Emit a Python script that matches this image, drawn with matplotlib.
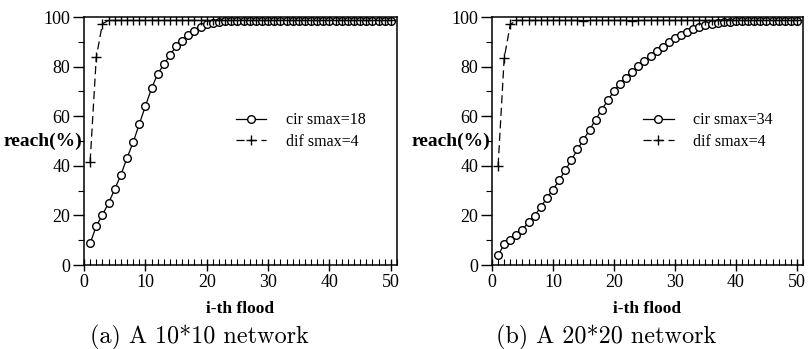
import matplotlib
matplotlib.use("Agg")
import matplotlib.pyplot as plt
from matplotlib.ticker import MultipleLocator

flood = list(range(1, 51))

cir18 = [8.7, 15.7, 20.2, 25.0, 30.5, 36.3, 43.1, 49.4, 56.8, 64.0,
         71.2, 77.0, 80.9, 84.6, 88.2, 90.5, 92.6, 94.4, 95.9, 97.0,
         97.7, 98.0, 98.2, 98.3, 98.4, 98.4, 98.4, 98.4, 98.4, 98.4,
         98.4, 98.4, 98.4, 98.4, 98.4, 98.4, 98.4, 98.4, 98.4, 98.4,
         98.4, 98.4, 98.4, 98.4, 98.4, 98.4, 98.4, 98.4, 98.4, 98.4]
dif4_a = [41.7, 83.7, 97.3, 98.6, 98.6, 98.6, 98.6, 98.6, 98.6, 98.6,
          98.6, 98.6, 98.6, 98.6, 98.6, 98.6, 98.6, 98.6, 98.6, 98.6,
          98.6, 98.6, 98.6, 98.6, 98.6, 98.6, 98.6, 98.6, 98.6, 98.6,
          98.6, 98.6, 98.6, 98.6, 98.6, 98.6, 98.6, 98.6, 98.6, 98.6,
          98.6, 98.6, 98.6, 98.6, 98.6, 98.6, 98.6, 98.6, 98.6, 98.6]
cir34 = [4.0, 8.3, 10.0, 12.0, 14.3, 17.3, 19.9, 23.4, 27.0, 30.4,
         34.1, 38.2, 42.2, 46.6, 50.5, 54.5, 58.6, 62.7, 66.4, 70.2,
         73.1, 75.6, 78.0, 80.1, 82.3, 84.3, 86.3, 88.1, 89.8, 91.4,
         92.8, 93.9, 95.0, 96.0, 96.8, 97.3, 97.7, 97.9, 98.1, 98.2,
         98.3, 98.3, 98.4, 98.4, 98.4, 98.4, 98.4, 98.4, 98.4, 98.4]
dif4_b = [40.0, 83.4, 97.0, 98.6, 98.6, 98.6, 98.6, 98.6, 98.6, 98.6,
          98.6, 98.6, 98.6, 98.6, 98.5, 98.6, 98.6, 98.6, 98.6, 98.6,
          98.6, 98.6, 98.5, 98.6, 98.6, 98.6, 98.6, 98.6, 98.6, 98.6,
          98.6, 98.6, 98.6, 98.6, 98.6, 98.6, 98.6, 98.6, 98.6, 98.6,
          98.6, 98.6, 98.6, 98.6, 98.6, 98.6, 98.6, 98.6, 98.6, 98.6]

panels = [
    dict(cir=cir18, dif=dif4_a, cir_label="cir smax=18", dif_label="dif smax=4",
         caption="(a) A 10*10 network", rect=[84/808, 84/349, 313/808, 248/349],
         cap_x=199/808),
    dict(cir=cir34, dif=dif4_b, cir_label="cir smax=34", dif_label="dif smax=4",
         caption="(b) A 20*20 network", rect=[492/808, 84/349, 311/808, 248/349],
         cap_x=606/808),
]

serif = "Liberation Serif"
fig = plt.figure(figsize=(8.08, 3.49), dpi=100)

for p in panels:
    ax = fig.add_axes(p["rect"])
    ax.plot(flood, p["cir"], color="black", lw=0.9, marker="o", ms=5.5,
            mfc="white", mec="black", mew=1.0, label=p["cir_label"])
    ax.plot(flood, p["dif"], color="black", lw=0.9, ls=(0, (6.5, 3.5)), marker="+",
            ms=6.5, mew=1.0, label=p["dif_label"])
    ax.set_xlim(0, 51)
    ax.set_ylim(0, 100)
    ax.xaxis.set_major_locator(MultipleLocator(10))
    ax.xaxis.set_minor_locator(MultipleLocator(1))
    ax.yaxis.set_major_locator(MultipleLocator(20))
    ax.yaxis.set_minor_locator(MultipleLocator(10))
    ax.tick_params(axis="x", which="major", direction="inout", length=9, width=1.0)
    ax.tick_params(axis="x", which="minor", direction="in", length=4, width=0.8)
    ax.tick_params(axis="y", which="major", direction="out", length=8, width=1.0)
    ax.tick_params(axis="y", which="minor", direction="out", length=4, width=0.8)
    ax.tick_params(axis="both", which="major", labelsize=13, pad=2)
    for lab in ax.get_xticklabels() + ax.get_yticklabels():
        lab.set_fontfamily(serif)
    for s in ax.spines.values():
        s.set_linewidth(1.1)
    ax.set_xlabel("i-th flood", fontfamily=serif, fontweight="bold", fontsize=12.5,
                  labelpad=7)
    ax.text(-0.005, 0.5, "reach(%)", transform=ax.transAxes, ha="right", va="center",
            fontfamily=serif, fontweight="bold", fontsize=14)
    ax.legend(loc="center left", bbox_to_anchor=(0.44, 0.54), frameon=False,
              prop={"family": serif, "size": 11.5}, handlelength=1.9,
              handletextpad=1.2, labelspacing=0.35, numpoints=1)
    fig.text(p["cap_x"], 1 - 337/349, p["caption"], ha="center", va="center",
             fontfamily="cmr10", fontsize=17.4)

fig.savefig("out.png", dpi=100)
